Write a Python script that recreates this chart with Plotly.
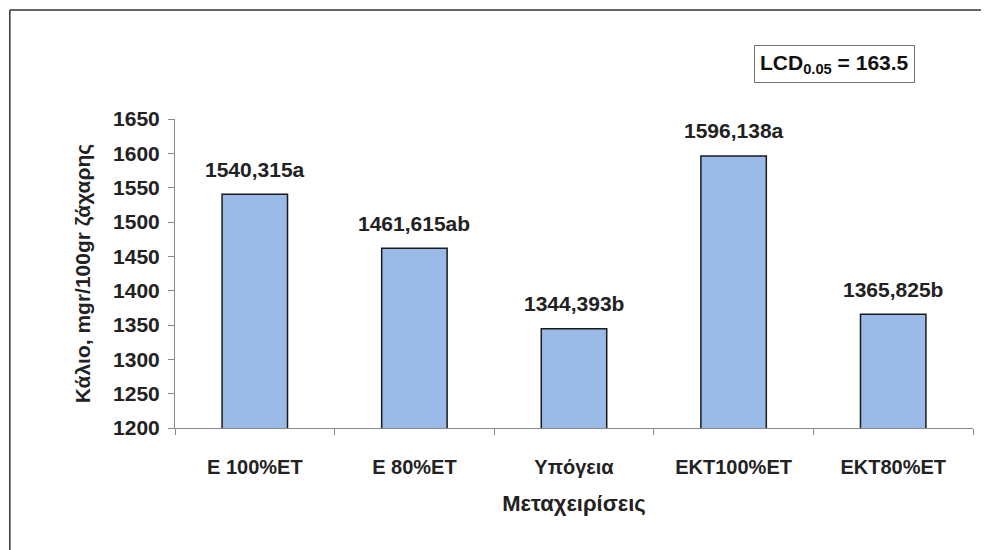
import plotly.graph_objects as go

categories = ["E 100%ET", "E 80%ET", "Υπόγεια", "EKT100%ET", "EKT80%ET"]
values = [1540.315, 1461.615, 1344.393, 1596.138, 1365.825]
letters = ["a", "ab", "b", "a", "b"]
y_ticks = [1200, 1250, 1300, 1350, 1400, 1450, 1500, 1550, 1600, 1650]

FONT = "Arial, Liberation Sans, sans-serif"

labels = [f"{v:.3f}".replace(".", ",") + l for v, l in zip(values, letters)]

fig = go.Figure()
fig.add_trace(go.Bar(
    x=categories, y=values, width=0.41,
    marker=dict(color="#9ABBE8", line=dict(color="#1a1a1a", width=1.5)),
    hoverinfo="skip",
))

for c, v, t in zip(categories, values, labels):
    fig.add_annotation(x=c, y=v, text=f"<b>{t}</b>", showarrow=False,
                       yanchor="middle", yshift=25,
                       font=dict(family=FONT, size=21, color="#222"))

fig.add_annotation(xref="paper", yref="paper", x=0.826, y=1.178,
                   text="<b>LCD<sub>0.05</sub> = 163.5</b>", showarrow=False,
                   xanchor="center", yanchor="middle",
                   bordercolor="#777", borderwidth=1, borderpad=5, bgcolor="white",
                   font=dict(family=FONT, size=21, color="#111"))

# outer chart border (left and top edges visible in reference)
fig.add_shape(type="line", xref="paper", yref="paper", x0=-0.207, x1=-0.207,
              y0=1.353, y1=-0.45, line=dict(color="#333", width=1.5))
fig.add_shape(type="line", xref="paper", yref="paper", x0=-0.207, x1=1.05,
              y0=1.353, y1=1.353, line=dict(color="#333", width=1.5))

fig.update_layout(
    width=989, height=550,
    margin=dict(l=167, r=24, t=111, b=130),
    paper_bgcolor="white", plot_bgcolor="white",
    showlegend=False,
    font=dict(family=FONT, color="#222"),
    xaxis=dict(
        type="category", showline=True, linecolor="#888", linewidth=1,
        ticks="outside", ticklen=6, tickcolor="#888", tickson="boundaries",
        tickfont=dict(family=FONT, size=20, color="#222"),
        ticklabelstandoff=21,
        title=dict(text="<b>Μεταχειρίσεις</b>", font=dict(family=FONT, size=22, color="#222"), standoff=18),
        showgrid=False, zeroline=False,
    ),
    yaxis=dict(
        range=[1200, 1650], tickvals=y_ticks, ticktext=[f"<b>{t}</b>" for t in y_ticks],
        showline=True, linecolor="#888", linewidth=1,
        ticks="outside", ticklen=6, tickcolor="#888",
        tickfont=dict(family=FONT, size=21, color="#222"),
        ticklabelstandoff=4,
        title=dict(text="<b>Κάλιο, mgr/100gr ζάχαρης</b>", font=dict(family=FONT, size=21, color="#222"), standoff=16),
        showgrid=False, zeroline=False,
    ),
)
fig.update_xaxes(tickvals=categories, ticktext=[f"<b>{c}</b>" for c in categories])

fig.write_html("out.html")
